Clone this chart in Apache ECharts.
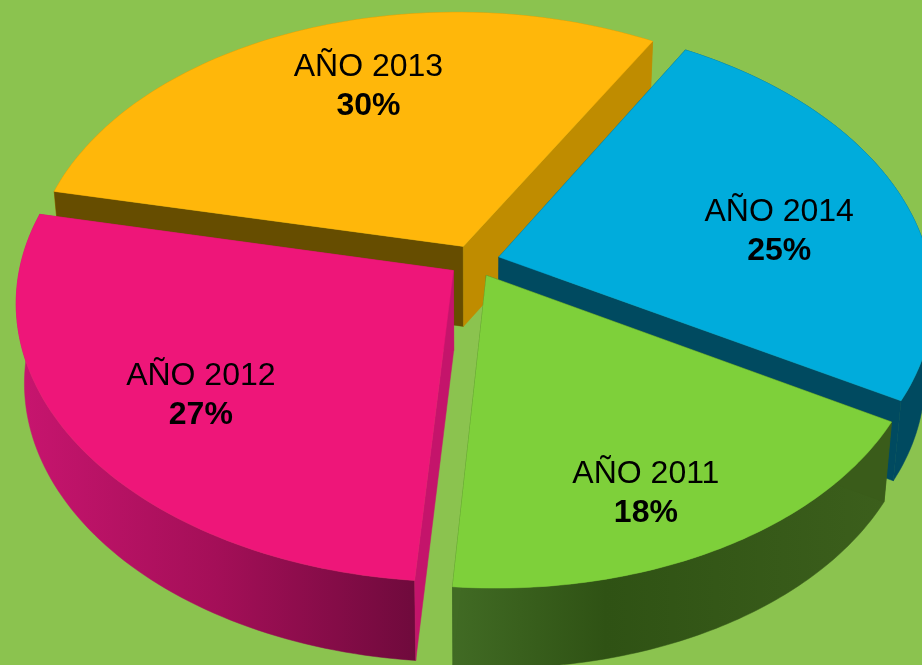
<!DOCTYPE html>
<html>
<head>
<meta charset="utf-8">
<style>
  html, body { margin: 0; padding: 0; background: #8bc34f; }
  #chart { width: 922px; height: 665px; }
</style>
<script src="https://cdn.jsdelivr.net/npm/echarts@6/dist/echarts.min.js"></script>
</head>
<body>
<div id="chart"></div>
<script>
const categories = ['AÑO 2011', 'AÑO 2012', 'AÑO 2013', 'AÑO 2014'];
const shares = [18, 27, 30, 25];

// back slices first, the front ones paint over their walls
const drawOrder = [2, 3, 1, 0];
const topColors = ['#7ed03a', '#ee1679', '#ffb70a', '#00acdc'];
const edgeColors = [['#3a5c1a', '#416b24'], ['#c4146b', '#c4146b'], ['#664d00', '#bf8c00'], ['#004a60', '#004a60']];
const rimStops = [
  [[0, '#416b24'], [0.35, '#2f5214'], [1, '#3c5f1c']],
  [[0, '#c8156f'], [0.5, '#a40f58'], [1, '#6f0a3c']],
  [[0, '#bf8c00'], [1, '#bf8c00']],
  [[0, '#004a60'], [1, '#004a60']]
];
const labelRadius = [0.78, 0.7, 0.68, 0.69];
const labelShift = [[-18, 11], [4, 6], [17, -7], [2, 20]];

// view of the tilted disc
const centerX = 474;
const centerY = 261;
const radiusX = 431;
const radiusY = 268;
const perspective = 0.13;
const skew = 0.011;
const explode = 0.06;
const thickness = 80;
const baseScale = 0.982;
const startAngle = 119.3;

const toRad = (deg) => deg * Math.PI / 180;
const total = shares.reduce((a, b) => a + b, 0);

const project = (x, z) => {
  const w = 1 + perspective * z;
  const dx = radiusX * x / w;
  return [centerX + dx, centerY - radiusY * z / w + skew * dx];
};
const lower = (p) => [centerX + (p[0] - centerX) * baseScale, p[1] + thickness];

const renderSlice = (params, api) => {
  const index = api.value(0);
  const before = shares.slice(0, index).reduce((a, b) => a + b, 0);
  const from = startAngle + before / total * 360;
  const sweep = shares[index] / total * 360;
  const mid = toRad(from + sweep / 2);
  const ox = explode * Math.sin(mid);
  const oz = explode * Math.cos(mid);
  const at = (deg, r) => project(ox + r * Math.sin(toRad(deg)), oz + r * Math.cos(toRad(deg)));

  const rim = [];
  for (let i = 0; i <= 80; i++) rim.push(at(from + sweep * i / 80, 1));
  const apex = project(ox, oz);
  const first = rim[0];
  const last = rim[rim.length - 1];

  const poly = (points, fill) => ({
    type: 'polygon',
    shape: { points },
    style: { fill, stroke: fill, lineWidth: 0.5 }
  });

  const lab = at(from + sweep / 2, labelRadius[index]);
  return {
    type: 'group',
    children: [
      poly(rim.concat(rim.map(lower).reverse()), {
        type: 'linear', x: 0, y: 0, x2: 1, y2: 0, colorStops: rimStops[index].map(([offset, color]) => ({ offset, color }))
      }),
      poly([apex, first, lower(first), lower(apex)], edgeColors[index][0]),
      poly([apex, last, lower(last), lower(apex)], edgeColors[index][1]),
      poly([apex].concat(rim), topColors[index]),
      {
        type: 'text',
        x: lab[0] + labelShift[index][0],
        y: lab[1] + labelShift[index][1],
        style: {
          text: '{name|' + categories[index] + '}\n{pct|' + shares[index] + '%}',
          align: 'center',
          verticalAlign: 'middle',
          fontFamily: '"Liberation Sans", Arial, sans-serif',
          fill: '#000',
          rich: {
            name: { fontSize: 32, lineHeight: 39, fill: '#000', fontFamily: '"Liberation Sans", Arial, sans-serif' },
            pct: { fontSize: 32, lineHeight: 39, fontWeight: 'bold', fill: '#000', fontFamily: '"Liberation Sans", Arial, sans-serif' }
          }
        }
      }
    ]
  };
};

const chart = echarts.init(document.getElementById('chart'));
chart.setOption({
  backgroundColor: '#8bc34f',
  animation: false,
  series: [{
    type: 'custom',
    coordinateSystem: 'none',
    renderItem: renderSlice,
    data: drawOrder.map((i) => [i]),
    silent: true
  }]
});
</script>
</body>
</html>
